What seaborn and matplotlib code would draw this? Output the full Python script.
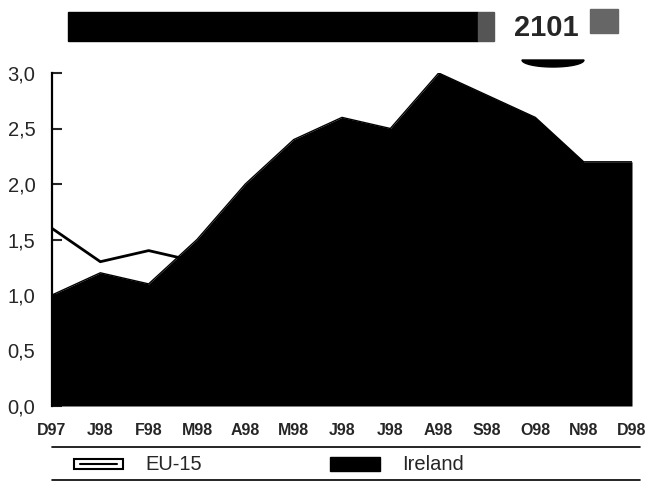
import numpy as np
import pandas as pd
import matplotlib
matplotlib.use("Agg")
import matplotlib.pyplot as plt
from matplotlib.patches import Rectangle, Polygon
from matplotlib.lines import Line2D
import seaborn as sns

months = ["D97", "J98", "F98", "M98", "A98", "M98", "J98", "J98", "A98", "S98", "O98", "N98", "D98"]
ireland = [1.0, 1.2, 1.1, 1.5, 2.0, 2.4, 2.6, 2.5, 3.0, 2.8, 2.6, 2.2, 2.2]
eu15 = [1.6, 1.3, 1.4, 1.3, np.nan, np.nan, np.nan, np.nan, np.nan, np.nan, np.nan, np.nan, np.nan]
yticks = [0.0, 0.5, 1.0, 1.5, 2.0, 2.5, 3.0]

df = pd.DataFrame({"pos": range(len(months)), "Ireland": ireland, "EU-15": eu15})

sns.set_style("white")
plt.rcParams["font.family"] = ["Liberation Sans", "DejaVu Sans"]

W, H = 646, 484
fig = plt.figure(figsize=(6.46, 4.84), dpi=100)
ax = fig.add_axes([52 / W, 1 - 406 / H, (632 - 52) / W, (406 - 73) / H])


def fx(x):
    return x / W


def fy(y):
    return 1 - y / H


# EU-15 line underneath, Ireland area on top
sns.lineplot(data=df, x="pos", y="EU-15", color="black", linewidth=2, ax=ax, zorder=1)
ax.fill_between(df["pos"], 0, df["Ireland"], color="black", linewidth=0, zorder=2)
sns.lineplot(data=df, x="pos", y="Ireland", color="black", linewidth=1, ax=ax, zorder=3)

ax.set_xlim(0, len(months) - 1)
ax.set_ylim(0, 3.0)
ax.set_xlabel("")
ax.set_ylabel("")
ax.set_xticks(range(len(months)))
ax.set_xticklabels(months, fontsize=11.5, fontweight="bold")
ax.set_yticks(yticks)
ax.set_yticklabels([f"{v:.1f}".replace(".", ",") for v in yticks], fontsize=14.5)
ax.tick_params(axis="x", length=0, pad=12)
ax.tick_params(axis="y", direction="in", length=7, width=1.5, pad=12, left=True)
for s in ["top", "right", "bottom"]:
    ax.spines[s].set_visible(False)
ax.spines["left"].set_color("black")
ax.spines["left"].set_linewidth(1.6)

# header band
fig.add_artist(Rectangle((fx(68), fy(41)), fx(478 - 68), 29 / H, color="black",
                         transform=fig.transFigure))
fig.add_artist(Rectangle((fx(478), fy(41)), fx(16), 29 / H, color="#555555",
                         transform=fig.transFigure))
fig.add_artist(Rectangle((fx(590), fy(33)), fx(28), 24 / H, color="#666666",
                         transform=fig.transFigure))
fig.text(fx(546), fy(28), "2101", fontsize=21, fontweight="bold", ha="center", va="center")
t = np.linspace(0, np.pi, 40)
arc = np.column_stack([fx(553 + 31 * np.cos(t)), fy(60 + 7 * np.sin(t))])
fig.add_artist(Polygon(arc, closed=True, color="black", transform=fig.transFigure))

# legend
fig.add_artist(Line2D([fx(52), fx(640)], [fy(447), fy(447)], color="black", linewidth=1.2))
fig.add_artist(Line2D([fx(52), fx(640)], [fy(480), fy(480)], color="black", linewidth=1.2))
fig.add_artist(Rectangle((fx(74), fy(469)), fx(49), 10 / H, fill=False, edgecolor="black",
                         linewidth=1.5, transform=fig.transFigure))
fig.add_artist(Line2D([fx(80), fx(117)], [fy(464), fy(464)], color="black", linewidth=1.5))
fig.text(fx(145), fy(464), "EU-15", fontsize=14.5, va="center", ha="left")
fig.add_artist(Rectangle((fx(330), fy(471)), fx(50), 14 / H, color="black",
                         transform=fig.transFigure))
fig.text(fx(402), fy(464), "Ireland", fontsize=14.5, va="center", ha="left")

fig.savefig("out.png", dpi=100)
